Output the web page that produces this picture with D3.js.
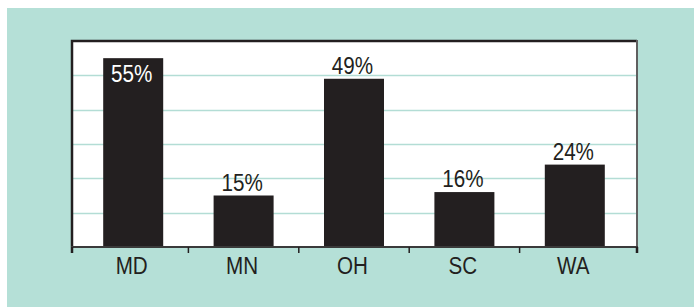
<!DOCTYPE html>
<html>
<head>
<meta charset="utf-8">
<script src="https://cdn.jsdelivr.net/npm/d3@7"></script>
<style>
  body { margin: 0; background: #fff; }
  svg text { font-family: "Liberation Sans", Arial, sans-serif; }
</style>
</head>
<body>
<div id="chart"></div>
<script>
var states = ["MD", "MN", "OH", "SC", "WA"];
var shares = [55, 15, 49, 16, 24];
var gridTicks = [10, 20, 30, 40, 50];

var width = 694, height = 307;
var frame = {left: 72, right: 637, top: 41, bottom: 247};
var squeeze = 0.86; // condensed look for the type
var fontSize = 24;

var svg = d3.select("#chart").append("svg")
  .attr("width", width)
  .attr("height", height);

// teal backdrop
svg.append("rect")
  .attr("x", 7).attr("y", 8)
  .attr("width", width - 7).attr("height", height - 8)
  .attr("fill", "#b5e0d7");

svg.append("rect")
  .attr("x", frame.left).attr("y", frame.top)
  .attr("width", frame.right - frame.left).attr("height", frame.bottom - frame.top)
  .attr("fill", "#fff");

var x = d3.scaleBand()
  .domain(states)
  .range([78, 630]);

var y = d3.scaleLinear()
  .domain([0, 60])
  .range([frame.bottom, frame.top]);

// gridlines
svg.append("g").selectAll("line")
  .data(gridTicks)
  .enter().append("line")
  .attr("x1", frame.left).attr("x2", frame.right)
  .attr("y1", function(d) { return Math.round(y(d)) + 0.5; })
  .attr("y2", function(d) { return Math.round(y(d)) + 0.5; })
  .attr("stroke", "#b3ddd5")
  .attr("stroke-width", 1.3);

var barW = 60;
svg.append("g").selectAll("rect")
  .data(shares)
  .enter().append("rect")
  .attr("x", function(d, i) { return x(states[i]) + x.bandwidth() / 2 - barW / 2; })
  .attr("y", function(d) { return y(d); })
  .attr("width", barW)
  .attr("height", function(d) { return y(0) - y(d); })
  .attr("fill", "#231f20");

// value labels, the tallest one sits inside its bar
svg.append("g").selectAll("text")
  .data(shares)
  .enter().append("text")
  .attr("transform", function(d, i) {
    var tx = x(states[i]) + x.bandwidth() / 2 - 1.5;
    var ty = d > 52 ? y(d) + 24 : y(d) - 5;
    return "translate(" + tx + "," + ty + ") scale(" + squeeze + ",1)";
  })
  .attr("text-anchor", "middle")
  .attr("font-size", fontSize)
  .attr("fill", function(d) { return d > 52 ? "#fff" : "#231f20"; })
  .text(function(d) { return d + "%"; });

// frame
svg.append("path")
  .attr("d", "M" + frame.left + "," + frame.bottom + "V" + frame.top + "H" + frame.right)
  .attr("fill", "none").attr("stroke", "#231f20").attr("stroke-width", 2.5);
svg.append("line")
  .attr("x1", frame.right).attr("x2", frame.right)
  .attr("y1", frame.top - 1).attr("y2", frame.bottom)
  .attr("stroke", "#5f5f5f").attr("stroke-width", 2);

// x axis with ticks between categories
var edges = [frame.left].concat(states.slice(1).map(function(s) { return x(s); }), [frame.right]);
var xAxis = svg.append("g");
xAxis.append("line")
  .attr("x1", frame.left - 1).attr("x2", frame.right + 1)
  .attr("y1", frame.bottom).attr("y2", frame.bottom)
  .attr("stroke", "#3a3a3a").attr("stroke-width", 2);
xAxis.selectAll(".tick")
  .data(edges)
  .enter().append("line")
  .attr("class", "tick")
  .attr("x1", function(d) { return d; }).attr("x2", function(d) { return d; })
  .attr("y1", frame.bottom).attr("y2", frame.bottom + 6)
  .attr("stroke", "#231f20")
  .attr("stroke-width", function(d, i) { return (i === 0 || i === edges.length - 1) ? 2.5 : 1.5; });
xAxis.selectAll("text")
  .data(states)
  .enter().append("text")
  .attr("transform", function(d) {
    return "translate(" + (x(d) + x.bandwidth() / 2 - 1.5) + ",274) scale(" + squeeze + ",1)";
  })
  .attr("text-anchor", "middle")
  .attr("font-size", fontSize)
  .attr("fill", "#231f20")
  .text(function(d) { return d; });
</script>
</body>
</html>
